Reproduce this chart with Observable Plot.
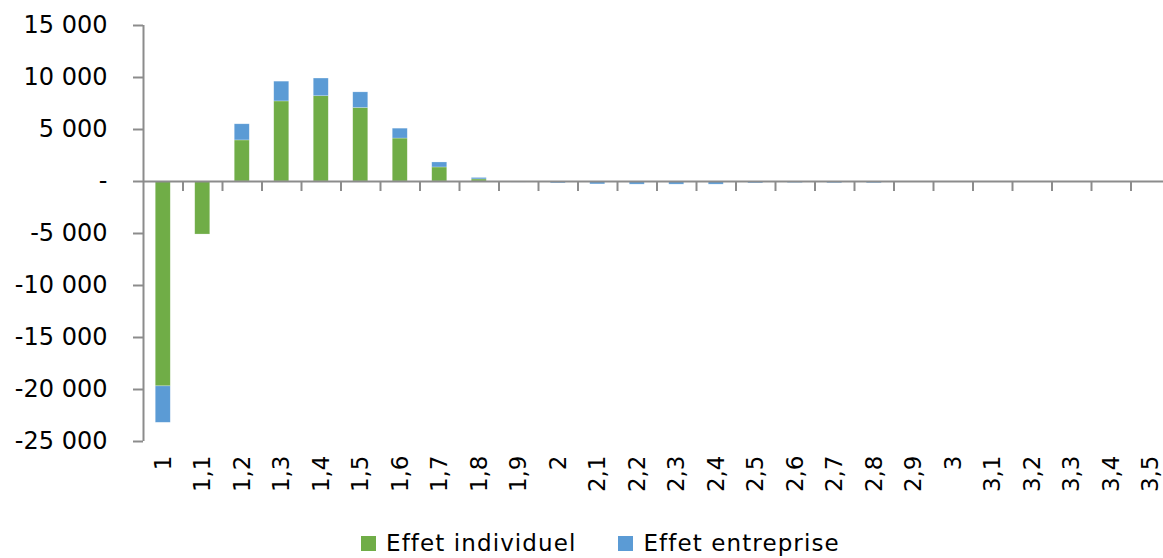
<!DOCTYPE html>
<html><head><meta charset="utf-8">
<script src="https://cdn.jsdelivr.net/npm/d3@7"></script>
<script src="https://cdn.jsdelivr.net/npm/@observablehq/plot@0.6"></script>
<style>
html,body{margin:0;padding:0;background:#fff;overflow:hidden;width:1163px;height:558px;}
#chart svg{display:block;max-width:none !important;width:1175px !important;height:520px !important;}
.legend{display:flex;align-items:center;height:38px;padding-top:4px;padding-left:361px;font-family:"DejaVu Sans","Liberation Sans",sans-serif;font-size:23px;letter-spacing:1.1px;color:#000;}
.legend .sw{width:15px;height:15px;display:inline-block;margin-right:10px;}
.legend .it{display:flex;align-items:center;margin-right:42px;}
</style></head>
<body>
<div id="chart"></div>
<div class="legend">
  <span class="it"><span class="sw" style="background:#70AD47"></span><span id="l1"></span></span>
  <span class="it"><span class="sw" style="background:#5B9BD5"></span><span id="l2"></span></span>
</div>
<script>
const categories = ["1","1,1","1,2","1,3","1,4","1,5","1,6","1,7","1,8","1,9","2","2,1","2,2","2,3","2,4","2,5","2,6","2,7","2,8","2,9","3","3,1","3,2","3,3","3,4","3,5"];
const seriesNames = ["Effet individuel","Effet entreprise"];
const individuel = [-19700,-5100,3950,7700,8200,7070,4130,1350,200,0,0,0,0,0,0,0,0,0,0,0,0,0,0,0,0,0];
const entreprise = [-3500,0,1550,1900,1700,1500,950,480,140,-100,-180,-280,-300,-300,-300,-180,-150,-170,-170,-80,-70,-60,0,0,0,0];
const yTicks = [15000,10000,5000,0,-5000,-10000,-15000,-20000,-25000];
const colors = ["#70AD47","#5B9BD5"];

document.getElementById("l1").textContent = seriesNames[0];
document.getElementById("l2").textContent = seriesNames[1];

const rows = [];
categories.forEach((c,i)=>{
  rows.push({cat:c, series:seriesNames[0], value:individuel[i]});
  rows.push({cat:c, series:seriesNames[1], value:entreprise[i]});
});

const W = 1175, H = 520, mL = 143, mR = 5, mT = 25, mB = 79;
const step = (W - mL - mR) / categories.length;
const fmt = d3.formatLocale({thousands:" ", grouping:[3], decimal:",", minus:"-"}).format(",d");
const gray = "#8c8c8c";

const plot = Plot.plot({
  width: W, height: H,
  marginLeft: mL, marginRight: mR, marginTop: mT, marginBottom: mB,
  style: {fontFamily: "'DejaVu Sans', 'Liberation Sans', sans-serif", fontSize: "23px", color: "#000", background: "#fff"},
  x: {domain: categories, paddingInner: 0.62, paddingOuter: 0.31, round: false, label: null},
  y: {domain: [-25000, 15000], label: null},
  color: {domain: seriesNames, range: colors},
  marks: [
    Plot.barY(rows, {x: "cat", y: "value", fill: "series", stroke: "#ffffff", strokeOpacity: 0.4, strokeWidth: 0.6}),
    Plot.ruleY([0], {stroke: gray, strokeWidth: 2}),
    Plot.ruleX(categories.slice(1), {x: d => d, y1: 0, y2: 0, dx: -step/2, insetBottom: -10, stroke: gray, strokeWidth: 2}),
    Plot.ruleX([categories[0]], {x: d => d, y1: 15000, y2: -25000, dx: -step/2, stroke: gray, strokeWidth: 2}),
    Plot.axisY({ticks: yTicks, tickFormat: d => d === 0 ? "-" : fmt(d), tickSize: 10, tickPadding: 26, stroke: gray, strokeWidth: 2, fontSize: 24}),
    Plot.axisX({anchor: "bottom", tickSize: 0, tickPadding: 14, tickRotate: -90, fontSize: 23})
  ]
});
document.getElementById("chart").appendChild(plot);
</script>
</body></html>
